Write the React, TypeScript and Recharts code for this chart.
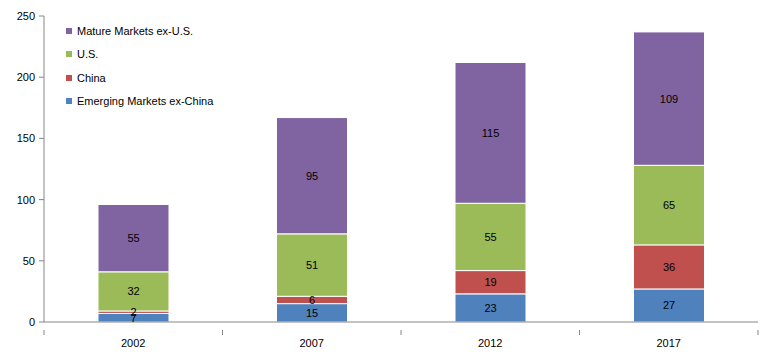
import { BarChart, Bar, XAxis, YAxis, LabelList } from "recharts";

const years = ["2002", "2007", "2012", "2017"];
const emergingExChina = [7, 15, 23, 27];
const china = [2, 6, 19, 36];
const us = [32, 51, 55, 65];
const matureExUs = [55, 95, 115, 109];
const yTicks = [0, 50, 100, 150, 200, 250];

const series = [
  { key: "emerging", name: "Emerging Markets ex-China", color: "#4F81BD" },
  { key: "china", name: "China", color: "#C0504D" },
  { key: "us", name: "U.S.", color: "#9BBB59" },
  { key: "mature", name: "Mature Markets ex-U.S.", color: "#8064A2" },
];

const data = years.map((year, i) => ({
  year,
  emerging: emergingExChina[i],
  china: china[i],
  us: us[i],
  mature: matureExUs[i],
}));

const FONT = "'Liberation Sans', Arial, sans-serif";
const W = 775;
const H = 354;
const margin = { top: 16, right: 17, left: 0, bottom: 8 };
const yAxisWidth = 44;
const bandWidth = (W - margin.left - margin.right - yAxisWidth) / years.length;
const axisColor = "#868686";

function XTick(props: any) {
  const { x, y, payload, index } = props;
  const half = bandWidth / 2;
  return (
    <g>
      <line x1={x - half} x2={x - half} y1={y} y2={y + 5} stroke={axisColor} />
      {index === years.length - 1 && (
        <line x1={x + half} x2={x + half} y1={y} y2={y + 5} stroke={axisColor} />
      )}
      <text x={x} y={y + 17} textAnchor="middle" fontSize={11} fill="#000" fontFamily={FONT}>
        {payload.value}
      </text>
    </g>
  );
}

function LegendBox() {
  return (
    <div style={{ position: "absolute", left: 66, top: 19, fontFamily: FONT, fontSize: 11, color: "#000" }}>
      {[...series].reverse().map((s) => (
        <div key={s.key} style={{ display: "flex", alignItems: "center", height: 23.5 }}>
          <span style={{ width: 6, height: 6, background: s.color, marginRight: 5 }} />
          <span>{s.name}</span>
        </div>
      ))}
    </div>
  );
}

export default function App() {
  return (
    <div style={{ position: "absolute", left: 0, top: 0, width: W, height: H, background: "#fff" }}>
      <BarChart width={W} height={H} data={data} margin={margin} barSize={71}>
        <XAxis
          dataKey="year"
          axisLine={{ stroke: axisColor }}
          tickLine={false}
          tick={<XTick />}
          height={24}
          interval={0}
        />
        <YAxis
          domain={[0, 250]}
          ticks={yTicks}
          width={yAxisWidth}
          axisLine={{ stroke: axisColor }}
          tickLine={{ stroke: axisColor }}
          tickSize={5}
          tickMargin={4}
          tick={{ fontSize: 11, fill: "#000", fontFamily: FONT }}
        />
        {series.map((s) => (
          <Bar
            key={s.key}
            dataKey={s.key}
            name={s.name}
            stackId="a"
            fill={s.color}
            stroke="#fff"
            strokeWidth={1}
            isAnimationActive={false}
          >
            <LabelList
              dataKey={s.key}
              position="center"
              fontSize={11}
              fill="#000"
              fontFamily={FONT}
            />
          </Bar>
        ))}
      </BarChart>
      <LegendBox />
    </div>
  );
}
